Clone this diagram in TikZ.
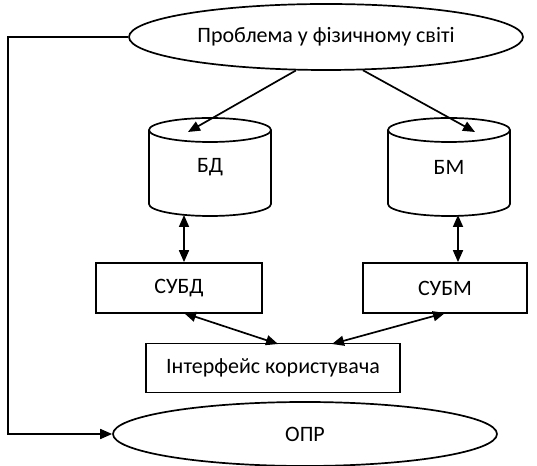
\documentclass[tikz,border=0pt]{standalone}
\usepackage{fontspec}
\setmainfont{Carlito}
\usetikzlibrary{arrows.meta,shapes.geometric}
\begin{document}
\begin{tikzpicture}[x=1pt,y=1pt, line width=1.7pt,
 lbl/.style={font=\fontsize{22}{26}\selectfont},
 oval/.style={ellipse, draw, inner sep=0pt, lbl},
 box/.style={rectangle, draw, inner sep=0pt, lbl},
 cyl/.style={line width=1.7pt},
 arr/.style={-{Triangle[length=12pt,width=10pt]}},
 darr/.style={{Triangle[length=12pt,width=10pt]}-{Triangle[length=12pt,width=10pt]}}]
\useasboundingbox (0,0) rectangle (537,465);
% nodes
\node[oval, minimum width=394pt, minimum height=66pt] (prob) at (326,428) {Проблема у фізичному світі};
\node[oval, minimum width=384pt, minimum height=64pt] (opr) at (305,31) {ОПР};
\node[box, minimum width=166pt, minimum height=50pt] (subd) at (179,177) {СУБД};
\node[box, minimum width=164pt, minimum height=50pt] (subm) at (445,177) {СУБМ};
\node[box, minimum width=254pt, minimum height=49pt] (ui) at (273,97) {Інтерфейс користувача};
% cylinders
\draw[cyl] (210,335) ellipse[x radius=61, y radius=12];
\draw[cyl] (149,335) -- (149,261) arc[start angle=180, end angle=360, x radius=61, y radius=12] -- (271,335);
\node[lbl] (bd) at (210,298) {БД};
\draw[cyl] (449,335) ellipse[x radius=61, y radius=12];
\draw[cyl] (388,335) -- (388,261) arc[start angle=180, end angle=360, x radius=61, y radius=12] -- (510,335);
\node[lbl] (bm) at (449,298) {БМ};
% coordinates
\coordinate (bdin) at (188,333);
\coordinate (bmin) at (475,333);
\coordinate (bdbot) at (184,250);
\coordinate (bmbot) at (458,250);
\coordinate (corner) at (8,428);
\coordinate (subdout) at (184,152);
\coordinate (submout) at (445,152);
\coordinate (uiinl) at (278,121);
\coordinate (uiinr) at (332,121);
% connectors
\draw[arr] (prob.228) -- (bdin);
\draw[arr] (prob.318) -- (bmin);
\draw[darr] (bdbot) -- (bdbot |- subd.north);
\draw[darr] (bmbot) -- (bmbot |- subm.north);
\draw[darr] (subdout) -- (uiinl);
\draw[darr] (submout) -- (uiinr);
\draw[arr] (prob.west) -- (corner) |- (opr.west);
\end{tikzpicture}
\end{document}
